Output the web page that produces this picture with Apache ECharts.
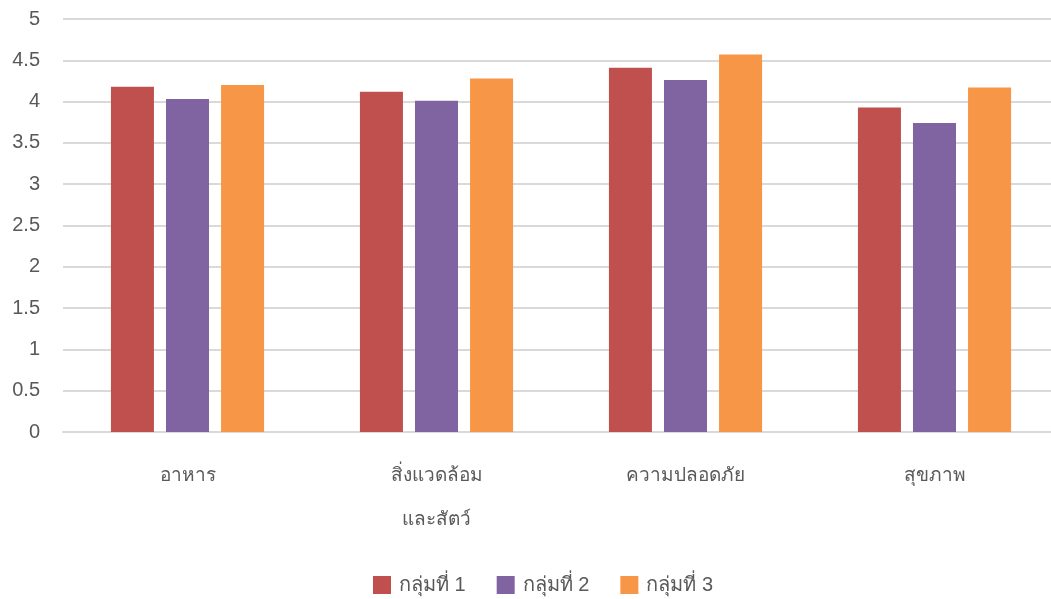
<!DOCTYPE html>
<html><head><meta charset="utf-8">
<script src="https://cdn.jsdelivr.net/npm/echarts@6/dist/echarts.min.js"></script>
<style>html,body{margin:0;padding:0;background:#fff;overflow:hidden}#c{width:1060px;height:599px}</style>
</head><body><div id="c"></div>
<script>
const categories = ['อาหาร', 'สิ่งแวดล้อม\nและสัตว์', 'ความปลอดภัย', 'สุขภาพ'];
const group1 = [4.18, 4.12, 4.41, 3.93];
const group2 = [4.03, 4.01, 4.26, 3.74];
const group3 = [4.20, 4.28, 4.57, 4.17];
const seriesNames = ['กลุ่มที่ 1', 'กลุ่มที่ 2', 'กลุ่มที่ 3'];
const colors = ['#C0504D', '#8064A2', '#F79646'];

const chart = echarts.init(document.getElementById('c'), null, {renderer: 'canvas'});
const font = '"Liberation Sans", "Open Sans", sans-serif';
chart.setOption({
  animation: false,
  color: colors,
  grid: {left: 63, width: 996, top: 19, bottom: 167},
  legend: {
    top: 572, left: 373, padding: 0,
    itemWidth: 18, itemHeight: 18, itemGap: 31,
    icon: 'rect',
    textStyle: {color: '#595959', fontSize: 20, fontFamily: font, lineHeight: 26, padding: [0, 0, 0, 3]}
  },
  xAxis: {
    type: 'category', data: categories,
    axisLine: {lineStyle: {color: '#d9d9d9', width: 2}},
    axisTick: {show: false},
    axisLabel: {color: '#595959', fontSize: 19, fontFamily: font, margin: 22, lineHeight: 44, interval: 0}
  },
  yAxis: {
    type: 'value', min: 0, max: 5, interval: 0.5,
    axisLine: {show: false}, axisTick: {show: false},
    splitLine: {lineStyle: {color: '#d9d9d9', width: 2}},
    axisLabel: {color: '#595959', fontSize: 20, fontFamily: font, margin: 23}
  },
  series: [
    {name: seriesNames[0], type: 'bar', data: group1, barGap: '28%', barCategoryGap: '38.5%'},
    {name: seriesNames[1], type: 'bar', data: group2, barGap: '28%', barCategoryGap: '38.5%'},
    {name: seriesNames[2], type: 'bar', data: group3, barGap: '28%', barCategoryGap: '38.5%'}
  ]
});
</script></body></html>
